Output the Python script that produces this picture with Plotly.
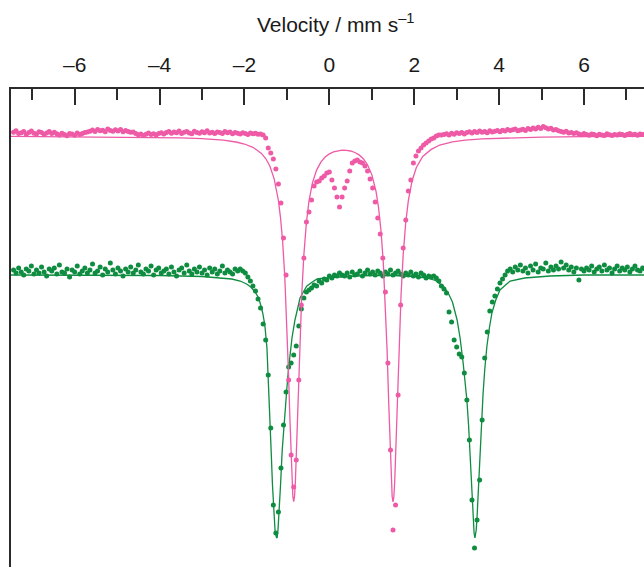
import plotly.graph_objects as go

# Velocity channels (mm/s), shared by both spectra
velocity = [
    -7.44,-7.38,-7.32,-7.26,-7.20,-7.14,-7.08,-7.02,-6.96,-6.90,
    -6.84,-6.78,-6.72,-6.66,-6.60,-6.54,-6.48,-6.42,-6.36,-6.30,
    -6.24,-6.18,-6.12,-6.06,-6.00,-5.94,-5.88,-5.82,-5.76,-5.70,
    -5.64,-5.58,-5.52,-5.46,-5.40,-5.34,-5.28,-5.22,-5.16,-5.10,
    -5.04,-4.98,-4.92,-4.86,-4.80,-4.74,-4.68,-4.62,-4.56,-4.50,
    -4.44,-4.38,-4.32,-4.26,-4.20,-4.14,-4.08,-4.02,-3.96,-3.90,
    -3.84,-3.78,-3.72,-3.66,-3.60,-3.54,-3.48,-3.42,-3.36,-3.30,
    -3.24,-3.18,-3.12,-3.06,-3.00,-2.94,-2.88,-2.82,-2.76,-2.70,
    -2.64,-2.58,-2.52,-2.46,-2.40,-2.34,-2.28,-2.22,-2.16,-2.10,
    -2.04,-1.98,-1.92,-1.86,-1.80,-1.74,-1.68,-1.62,-1.56,-1.50,
    -1.44,-1.38,-1.32,-1.26,-1.20,-1.14,-1.08,-1.02,-0.96,-0.90,
    -0.84,-0.78,-0.72,-0.66,-0.60,-0.54,-0.48,-0.42,-0.36,-0.30,
    -0.24,-0.18,-0.12,-0.06,0.00,0.06,0.12,0.18,0.24,0.30,
    0.36,0.42,0.48,0.54,0.60,0.66,0.72,0.78,0.84,0.90,
    0.96,1.02,1.08,1.14,1.20,1.26,1.32,1.38,1.44,1.50,
    1.56,1.62,1.68,1.74,1.80,1.86,1.92,1.98,2.04,2.10,
    2.16,2.22,2.28,2.34,2.40,2.46,2.52,2.58,2.64,2.70,
    2.76,2.82,2.88,2.94,3.00,3.06,3.12,3.18,3.24,3.30,
    3.36,3.42,3.48,3.54,3.60,3.66,3.72,3.78,3.84,3.90,
    3.96,4.02,4.08,4.14,4.20,4.26,4.32,4.38,4.44,4.50,
    4.56,4.62,4.68,4.74,4.80,4.86,4.92,4.98,5.04,5.10,
    5.16,5.22,5.28,5.34,5.40,5.46,5.52,5.58,5.64,5.70,
    5.76,5.82,5.88,5.94,6.00,6.06,6.12,6.18,6.24,6.30,
    6.36,6.42,6.48,6.54,6.60,6.66,6.72,6.78,6.84,6.90,
    6.96,7.02,7.08,7.14,7.20,7.26,7.32,7.38,7.44,
]

# Upper (pink) spectrum, relative transmission (offset)
pink_data = [
    113.98,114.12,113.85,113.92,114.05,113.78,113.96,114.10,113.88,113.80,114.02,113.94,113.75,113.90,114.06,113.86,113.97,113.82,
    113.70,113.88,113.74,113.62,113.85,113.79,113.68,113.90,113.76,113.84,113.95,113.99,
    114.08,114.20,114.05,114.26,114.12,114.18,114.02,114.30,114.15,114.08,114.22,114.10,114.25,114.03,114.16,114.06,113.98,114.00,
    113.85,113.72,113.80,113.66,113.78,113.90,113.74,113.82,113.70,113.86,113.92,113.80,
    113.96,114.05,113.88,114.00,113.92,114.10,113.86,113.98,114.04,113.90,113.82,114.08,113.95,113.87,114.02,113.93,114.12,113.89,113.97,113.84,114.01,113.94,113.86,114.06,113.92,113.99,113.83,113.95,
    113.88,113.80,113.93,113.85,113.76,113.90,113.82,113.87,113.78,
    113.8,113.7,113.4,112.4,111.9,111.3,110.3,108.8,106.9,103.4,99.7,
    89.2,81.7,78.5,81.2,89.2,96.7,101.4,105.0,106.0,107.2,108.6,109.0,109.1,109.4,109.6,109.9,
    110.0,109.2,108.4,107.5,106.5,107.5,108.4,109.1,110.1,110.9,111.1,111.2,111.0,110.9,110.6,110.1,109.3,
    108.4,107.0,105.4,103.8,101.4,98.0,90.9,82.2,74.2,76.7,87.7,96.7,102.4,105.2,108.1,109.2,110.9,
    111.6,112.1,112.4,112.7,112.9,113.1,113.3,113.4,113.6,113.7,113.7,
    113.75,113.82,113.70,113.88,113.78,113.92,113.85,113.96,113.80,113.94,114.02,113.90,
    114.05,113.96,114.10,113.98,114.04,113.92,114.12,114.00,114.08,114.15,114.02,
    114.18,114.10,114.25,114.14,114.22,114.30,114.12,114.20,114.28,114.16,114.35,114.24,114.40,114.30,114.48,114.36,
    114.55,114.42,114.30,114.38,114.20,114.26,
    114.12,114.05,113.98,114.08,113.90,113.95,113.84,113.92,
    113.80,113.72,113.85,113.76,113.68,113.80,113.74,113.62,113.78,113.70,113.66,113.82,113.72,113.64,113.76,113.69,113.80,113.74,113.66,113.78,113.84,113.72,113.77,113.68,113.80,113.74,113.79,
]

# Lower (green) spectrum, relative transmission
green_data = [
    100.2,99.9,100.4,100.0,99.7,100.3,100.1,100.6,99.8,100.2,99.9,100.5,100.0,99.6,100.3,
    100.1,100.4,99.8,100.7,100.0,99.9,100.3,99.5,100.2,100.0,100.6,99.8,100.1,100.4,99.9,
    100.2,100.8,99.9,100.1,100.5,99.7,100.3,100.0,100.9,100.2,99.8,100.4,100.1,99.6,100.3,
    100.0,100.5,99.9,100.2,100.7,100.0,99.8,100.3,100.1,100.6,99.7,100.2,100.4,99.9,100.1,
    100.3,99.8,100.5,100.0,99.6,100.2,100.4,99.9,100.7,100.1,99.8,100.3,100.0,100.5,99.9,
    100.2,99.7,100.4,100.0,100.3,99.8,100.1,100.6,99.9,100.2,100.0,99.8,100.3,100.1,
    100.3,100.1,99.9,99.5,99.1,98.6,98.1,97.3,96.4,94.8,
    93.2,89.7,84.4,76.7,73.9,76.0,80.4,84.7,88.0,90.5,
    90.9,91.7,92.6,94.6,96.3,97.4,98.0,98.2,98.4,98.7,
    98.6,99.1,98.9,99.3,99.2,99.6,99.4,99.7,99.6,99.9,
    99.7,
    99.6,99.9,99.5,100.0,99.7,99.8,100.1,99.6,99.9,100.2,99.8,100.0,
    99.7,100.1,99.9,99.6,100.0,99.8,100.2,99.7,99.9,100.1,99.8,99.6,
    99.9,99.7,100.0,99.6,99.8,99.5,99.9,99.7,99.4,99.6,99.5,
    99.6,99.4,99.1,98.6,98.3,97.9,96.0,95.0,93.2,92.5,
    91.8,91.5,89.9,87.2,83.2,77.2,72.4,75.2,79.2,85.2,
    91.4,94.0,96.1,97.0,97.6,98.3,98.9,99.3,99.7,100.1,
    100.3,100.0,100.5,100.2,100.7,100.1,100.4,99.9,100.6,100.2,100.8,100.0,100.4,100.3,100.9,100.1,100.5,100.2,100.6,100.3,
    101.0,100.4,100.7,100.2,100.5,100.0,100.4,99.2,100.3,100.1,
    100.4,100.2,100.6,100.0,100.3,100.5,100.1,100.7,100.2,100.4,99.9,100.3,100.6,100.1,100.4,100.2,100.5,100.0,100.3,100.6,100.2,100.1,100.4,100.3,
]

# Fitted curves
pink_fit_v = [-7.5,-6,-5,-4,-3.5,-3,-2.5,-2.2,-2.0,-1.8,
              -1.6,-1.5,-1.4,-1.3,-1.2,-1.15,-1.1,-1.05,-1.0,-0.96,
              -0.93,-0.90,-0.88,-0.86,-0.84,-0.82,-0.80,-0.77,-0.74,-0.70,
              -0.65,-0.60,-0.54,-0.48,-0.40,-0.30,-0.20,-0.10,0.0,0.1,
              0.2,0.3,0.4,0.5,0.6,0.7,0.8,0.9,1.0,1.1,
              1.16,1.22,1.27,1.32,1.36,1.40,1.43,1.46,1.48,1.50,
              1.52,1.54,1.57,1.60,1.64,1.69,1.74,1.80,1.86,1.95,
              2.05,2.2,2.4,2.6,2.9,3.2,3.6,4.0,5.0,6.0,7.5]
pink_fit_t = [113.57,113.54,113.52,113.47,113.42,113.34,113.18,113.0,112.8,112.47,
              111.86,111.35,110.58,109.32,107.15,105.42,103.01,99.56,94.69,89.64,
              85.4,81.3,79.06,77.56,77.03,77.56,79.05,82.59,86.81,92.27,
              97.77,101.74,104.95,107.08,108.89,110.19,110.99,111.5,111.81,112.01,
              112.13,112.18,112.17,112.1,111.95,111.71,111.33,110.72,109.74,108.05,
              106.42,103.98,101.01,96.77,92.23,86.78,82.55,79.01,77.52,77.0,
              77.53,79.02,82.56,86.79,92.25,97.77,101.74,104.97,107.12,109.13,
              110.45,111.55,112.26,112.7,113.01,113.19,113.32,113.39,113.49,113.53,113.56]

green_fit_v = [-7.5,-5.0,-4.0,-3.0,-2.6,-2.3,-2.1,-1.95,-1.85,-1.75,
               -1.68,-1.63,-1.57,-1.52,-1.47,-1.43,-1.40,-1.37,-1.34,-1.31,
               -1.28,-1.25,-1.23,-1.21,-1.18,-1.15,-1.11,-1.07,-1.04,-1.00,
               -0.96,-0.93,-0.88,-0.81,-0.75,-0.69,-0.60,-0.53,-0.40,-0.29,
               -0.10,0.20,0.60,1.00,1.50,2.00,2.30,2.50,2.68,2.80,
               2.90,3.01,3.08,3.15,3.20,3.24,3.28,3.31,3.35,3.38,
               3.41,3.43,3.46,3.48,3.51,3.55,3.58,3.62,3.66,3.71,
               3.77,3.83,3.92,4.02,4.15,4.26,4.60,5.20,6.00,7.50]
green_fit_t = [99.7,99.7,99.65,99.55,99.45,99.3,99.1,98.8,98.5,98.0,
               97.5,96.9,95.9,94.7,92.4,88.7,85.2,82.0,78.7,76.0,
               74.2,73.5,73.4,74.2,76.2,78.7,82.2,84.7,86.5,88.4,
               90.4,91.7,93.4,95.2,96.4,97.4,98.1,98.6,99.0,99.3,
               99.4,99.5,99.6,99.65,99.65,99.55,99.4,99.15,98.6,97.9,
               97.0,95.2,93.4,91.0,89.0,87.2,84.7,82.2,78.7,75.9,
               73.9,73.4,74.2,75.5,78.2,82.2,85.2,87.7,90.2,92.5,
               94.4,95.9,97.2,98.2,98.7,99.1,99.4,99.6,99.7,99.7]

tick_vals = [-6, -4, -2, 0, 2, 4, 6]
tick_text = ["\u20136", "\u20134", "\u20132", "0", "2", "4", "6"]
minor_vals = [-7, -5, -3, -1, 1, 3, 5, 7]

assert len(velocity) == len(pink_data) == len(green_data), (len(velocity), len(pink_data), len(green_data))
assert len(pink_fit_v) == len(pink_fit_t)
assert len(green_fit_v) == len(green_fit_t)

PINK = "#EE5AA6"
GREEN = "#0E8C40"
AXIS = "#2b2b2b"
FONT = "Liberation Sans, Arial, Helvetica, sans-serif"
FS = 21

fig = go.Figure()
fig.add_trace(go.Scatter(x=green_fit_v, y=green_fit_t, mode="lines",
                         line=dict(color=GREEN, width=1.3), hoverinfo="skip"))
fig.add_trace(go.Scatter(x=velocity, y=green_data, mode="markers",
                         marker=dict(color=GREEN, size=5, line=dict(width=0))))
fig.add_trace(go.Scatter(x=pink_fit_v, y=pink_fit_t, mode="lines",
                         line=dict(color=PINK, width=1.3), hoverinfo="skip"))
fig.add_trace(go.Scatter(x=velocity, y=pink_data, mode="markers",
                         marker=dict(color=PINK, size=5, line=dict(width=0))))

fig.update_layout(
    width=644, height=567,
    margin=dict(l=11, r=0, t=89, b=0, pad=0),
    paper_bgcolor="white", plot_bgcolor="white",
    showlegend=False,
    font=dict(family=FONT, size=FS, color="#1a1a1a"),
    xaxis=dict(
        side="top", range=[-7.5, 7.413], showgrid=False, zeroline=False,
        showline=True, linecolor=AXIS, linewidth=2,
        ticks="inside", ticklen=16, tickwidth=2, tickcolor=AXIS,
        tickmode="array", tickvals=tick_vals, ticktext=tick_text,
        tickfont=dict(family=FONT, size=FS, color="#1a1a1a"),
        ticklabelstandoff=7,
        minor=dict(ticks="inside", ticklen=11, tickwidth=2, tickcolor=AXIS,
                   tickmode="array", tickvals=minor_vals, showgrid=False),
    ),
    yaxis=dict(
        range=[70.5, 118.3], showgrid=False, zeroline=False,
        showline=True, linecolor=AXIS, linewidth=2,
        ticks="", showticklabels=False,
    ),
    annotations=[dict(
        text="Velocity / mm s<sup>\u20131</sup>", xref="paper", yref="paper",
        x=0.513, y=1.139, xanchor="center", yanchor="middle", showarrow=False,
        font=dict(family=FONT, size=FS, color="#1a1a1a"),
    )],
)

fig.write_html("out.html")
